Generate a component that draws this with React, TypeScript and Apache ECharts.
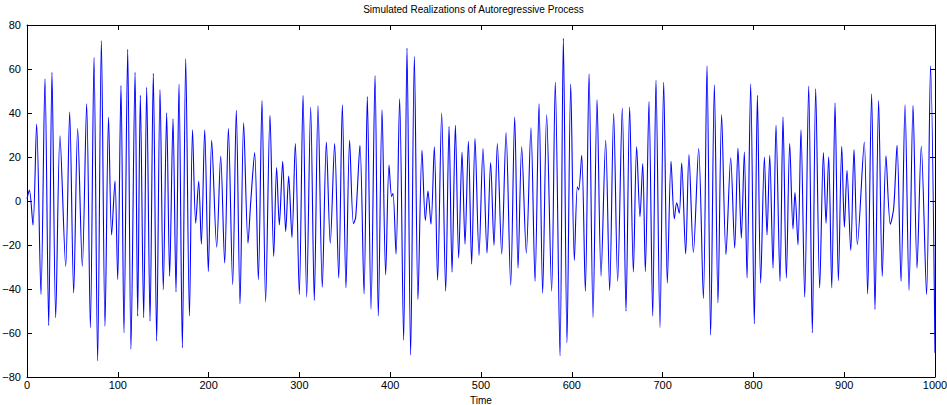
import React, { useEffect, useRef } from "react";
import * as echarts from "echarts";

const titleText = "Simulated Realizations of Autoregressive Process";
const xName = "Time";

// Turning points (time, value)
const time = [
  0, 2.6, 6.6, 10.6, 15.4, 19.8, 23.9, 27.5, 31.6, 36.3, 42.6, 47, 51.4, 55.8, 60.9, 65.7, 69.8, 73.8, 77.8, 81.9,
  85.9, 89.8, 93.2, 96.9, 99.9, 103.5, 106.8, 110.9, 114.5, 119, 121.9, 124.8, 128.5, 131.8, 135.5, 139.1, 142.8, 146.5, 150.1, 153.8,
  157.1, 160.8, 164.1, 167.4, 171.1, 174.8, 178.9, 182.3, 185.8, 189.1, 192, 195.7, 199.7, 203.4, 208.9, 213.3, 217.7, 221.8, 226.5, 230.5,
  234.6, 238.6, 243.4, 246.3, 250.7, 254.8, 258.8, 262.8, 267.6, 271.7, 274.9, 277.9, 281.6, 284.9, 288.2, 291.8, 295.5, 299.9, 304, 308,
  312.4, 316.4, 320.5, 325.2, 329.7, 334, 338.8, 343.3, 347.3, 351.3, 355.3, 359.5, 362, 366.7, 371.2, 374.8, 378.9, 383.3, 386.9, 391,
  395, 398.7, 401.6, 403.1, 406.4, 410.4, 414.8, 418.5, 422.5, 426.6, 430.6, 435, 438.7, 441.6, 444.9, 448.6, 452.2, 456.7, 461.1, 464.8,
  468.1, 471.8, 475.4, 479.1, 482.4, 486.1, 489.7, 493.4, 497.8, 502.2, 506.6, 510.6, 514.3, 518, 522.8, 527.6, 532.7, 537.1, 540.8, 544.8,
  549.9, 555, 559.5, 563.9, 567.9, 572.3, 577.8, 581.8, 587, 590.7, 594.7, 598.8, 602.8, 606.1, 607.6, 610.9, 614.9, 619, 623.4, 627.8,
  632.2, 637.3, 641.7, 646.1, 650.5, 655.6, 659.7, 663.7, 667.8, 671.4, 675.1, 678.1, 681, 685, 689.1, 692.7, 697.1, 701.2, 705.2, 709.3,
  712.9, 715.5, 718.4, 721, 725.4, 729, 733.9, 739.7, 744.9, 748.9, 752.9, 757, 761, 765, 769.8, 775, 779.4, 783, 786.7, 790,
  793, 797, 801, 804.4, 808, 812.1, 815, 818, 821.6, 824.9, 829.3, 832.6, 836.3, 840, 843.6, 845.8, 849.1, 852.4, 856.5, 860.9,
  864.9, 868.6, 873, 877.1, 880, 882.9, 886.3, 889.9, 893.6, 897.3, 900.2, 903.1, 907.2, 910.8, 914.5, 922.1, 925.8, 930.2, 933.9, 937.9,
  941.9, 946, 950.8, 954.5, 958.2, 962.6, 967, 971.4, 975.8, 980.2, 984.9, 990.7, 995.1, 1000,
];

const value = [
  1, 5, -11, 35, -42.5, 55.5, -56.6, 58.5, -53, 29.6, -29.7, 40.4, -41.8, 32.9, -29.7, 44.2, -57.6, 65.3, -72.7, 72.9,
  -56.9, 38, -15.4, 9.2, -35.7, 52.5, -59.9, 69, -67.4, 58.5, -52.3, 48, -53, 51.7, -54.6, 58, -63.6, 50.7, -40.3, 40.1,
  -34.2, 37.4, -41.3, 53.2, -66.7, 64.6, -52.3, 32.4, -10.1, 9, -19.6, 32.4, -32, 27.6, -21, 20.4, -28.2, 32.9, -38, 41.2,
  -46.8, 35.6, -19.2, -1, 22, -35.7, 45.7, -45.9, 38.9, -25.2, 15.2, -10.9, 18.1, -13.9, 11.3, -16.6, 26.1, -42.5, 48, -43.7,
  42.7, -45.2, 43.4, -39.2, 26.8, -19.2, 26.1, -35, 43.7, -39.5, 27.6, -10.3, -7.4, 25.3, -42.2, 47.5, -49.3, 57, -52.3, 41.5,
  -33.5, 16.3, 2, 3.5, -24.1, 46.5, -63.3, 69.5, -70, 65.8, -44.8, 23.1, -8.9, 4.5, -10.6, 24.6, -36, 40, -41, 33.9,
  -32.4, 34.4, -25.9, 22.3, -19.6, 27.1, -28.7, 28.4, -24.7, 23.8, -23.7, 17.5, -20.2, 26.1, -24.1, 31.1, -38.3, 38.2, -30.5, 24.6,
  -23.7, 33.3, -36.5, 44.2, -41.8, 39.2, -41, 54, -70.4, 73.9, -64.4, 53.2, -27, 6.5, 5, 20.8, -41, 57.8, -53, 46,
  -34.2, 27.6, -40.7, 39.7, -36.5, 42.2, -50.1, 42.7, -32.3, 24.6, -7.1, 17, -32, 45.2, -52.3, 55, -57.6, 54, -37.3, 18.1,
  -8.1, -0.8, -5.6, 17.3, -24, 21.1, -23.4, 23.8, -44.3, 61.5, -60.9, 52.8, -46.3, 39.2, -24.4, 19.6, -21.4, 24.1, -16.9, 22.3,
  -35, 53.2, -55.8, 48, -37.3, 20, -15.4, 20.8, -30.5, 34.4, -36.5, 38.2, -35, 26.1, -12.7, 3.8, -19.9, 32.4, -43.7, 52.2,
  -59.9, 51, -39.5, 22, -10.1, 20.1, -39.5, 44.5, -36.2, 24.9, -11.9, 14, -22.5, 23.4, -19.9, 26.8, -42.2, 48.7, -49.3, 45.7,
  -34.2, 20.5, -10.6, -3.3, 25.3, -36.5, 43.7, -40.7, 43.4, -30.5, 24.9, -42.5, 61.5, -69,
];

const FONT = "'Liberation Sans', Arial, Helvetica, sans-serif";

export default function App() {
  const ref = useRef<HTMLDivElement>(null);
  useEffect(() => {
    if (!ref.current) return;
    const chart = echarts.init(ref.current, null, { renderer: "svg" });
    const data = time.map((t, i) => [t, value[i]]);
    const axisCommon = {
      axisLine: { show: true, onZero: false, lineStyle: { color: "#000", width: 1 } },
      axisTick: { show: true, inside: true, length: 5, lineStyle: { color: "#000", width: 1 } },
      splitLine: { show: false },
    };
    chart.setOption({
      animation: false,
      backgroundColor: "#fff",
      title: {
        text: titleText,
        left: "center",
        top: 4,
        padding: 0,
        textStyle: { fontSize: 10, fontWeight: "normal", color: "#000", fontFamily: FONT },
      },
      grid: {
        left: 27,
        right: 12,
        top: 25,
        bottom: 28,
        containLabel: false,
        outerBoundsMode: "none",
      },
      xAxis: [
        {
          type: "value",
          min: 0,
          max: 1000,
          interval: 100,
          position: "bottom",
          ...axisCommon,
          axisLabel: {
            color: "#000",
            fontSize: 11,
            margin: 2,
            fontFamily: FONT,
            formatter: (v: number) => String(v),
          },
          name: xName,
          nameLocation: "middle",
          nameGap: 14,
          nameTextStyle: { color: "#000", fontSize: 10, lineHeight: 11, fontFamily: FONT },
        },
        {
          type: "value",
          min: 0,
          max: 1000,
          interval: 100,
          position: "top",
          ...axisCommon,
          axisLabel: { show: false },
        },
      ],
      yAxis: [
        {
          type: "value",
          min: -80,
          max: 80,
          interval: 20,
          position: "left",
          ...axisCommon,
          axisLabel: {
            color: "#000",
            fontSize: 11,
            margin: 6,
            fontFamily: FONT,
            formatter: (v: number) => (v < 0 ? "\u2212" + Math.abs(v) : String(v)),
          },
        },
        {
          type: "value",
          min: -80,
          max: 80,
          interval: 20,
          position: "right",
          ...axisCommon,
          axisLabel: { show: false },
        },
      ],
      series: [
        {
          type: "line",
          xAxisIndex: 0,
          yAxisIndex: 0,
          data,
          showSymbol: false,
          smooth: 0.3,
          lineStyle: { color: "#0000ff", width: 1.1 },
        },
      ],
    });
    return () => chart.dispose();
  }, []);
  return (
    <div
      ref={ref}
      style={{ position: "fixed", left: 0, top: 0, width: 947, height: 405, background: "#fff" }}
    />
  );
}
